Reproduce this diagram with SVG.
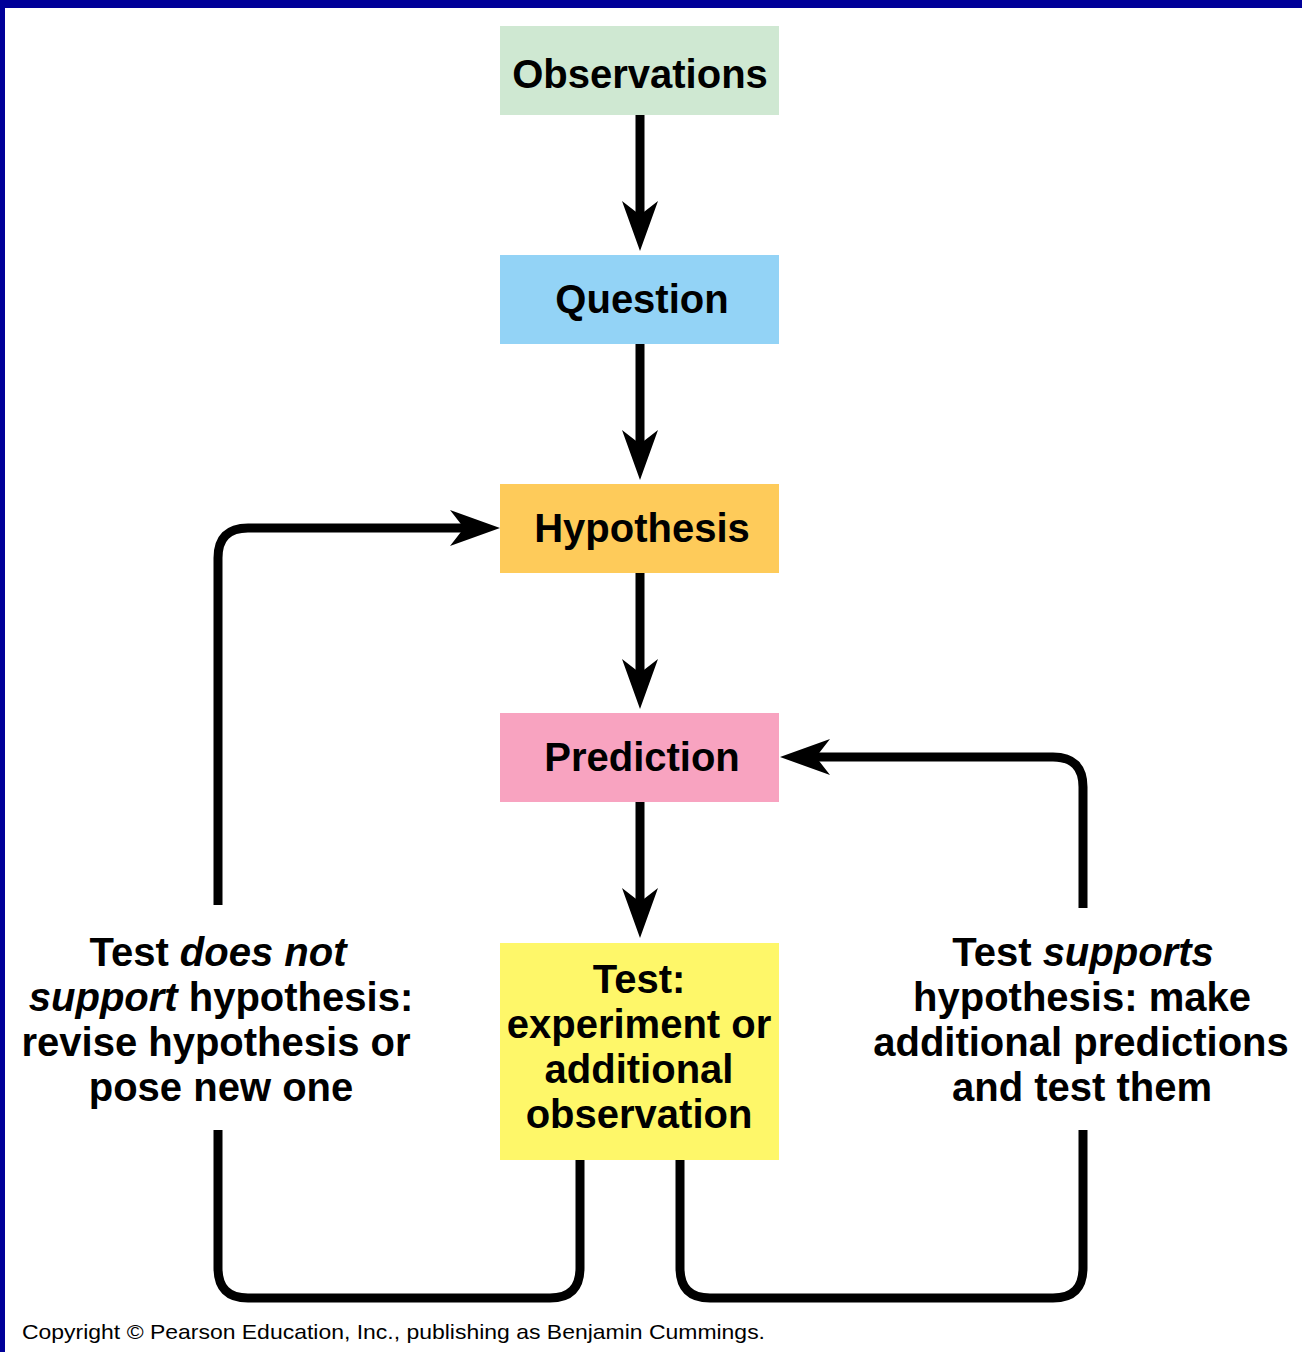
<svg xmlns="http://www.w3.org/2000/svg" width="1302" height="1352" viewBox="0 0 1302 1352">
<style>
  .lbl { font-family: "Liberation Sans", Arial, Helvetica, sans-serif; font-weight: bold; font-size: 40px; fill: #000; text-anchor: middle; }
  .it { font-style: italic; }
  .conn { fill: none; stroke: #000; stroke-width: 9; stroke-linejoin: round; }
  .copy { font-family: "Liberation Sans", Arial, Helvetica, sans-serif; font-size: 21px; fill: #000; }
</style>
<defs>
  <marker id="ah" markerUnits="userSpaceOnUse" markerWidth="80" markerHeight="60" refX="0" refY="0" orient="auto" overflow="visible" viewBox="-40 -30 80 60">
    <path d="M26,0 L-24,-18 L-10,0 L-24,18 Z" fill="#000"/>
  </marker>
</defs>
<rect x="0" y="0" width="1302" height="1352" fill="#ffffff"/>
<rect x="0" y="0" width="1302" height="8" fill="#000099"/>
<rect x="0" y="0" width="5" height="1352" fill="#000099"/>

<g id="observations">
  <rect x="500" y="26" width="279" height="89" fill="#cfe8d2"/>
  <text class="lbl" x="640" y="88">Observations</text>
</g>
<g id="question">
  <rect x="500" y="255" width="279" height="89" fill="#93d3f6"/>
  <text class="lbl" x="642" y="313">Question</text>
</g>
<g id="hypothesis">
  <rect x="500" y="484" width="279" height="89" fill="#fecb5a"/>
  <text class="lbl" x="642" y="542">Hypothesis</text>
</g>
<g id="prediction">
  <rect x="500" y="713" width="279" height="89" fill="#f8a3c0"/>
  <text class="lbl" x="642" y="771">Prediction</text>
</g>
<g id="test">
  <rect x="500" y="943" width="279" height="217" fill="#fef769"/>
  <text class="lbl" x="639" y="993">Test:</text>
  <text class="lbl" x="639" y="1038">experiment or</text>
  <text class="lbl" x="639" y="1083">additional</text>
  <text class="lbl" x="639" y="1128">observation</text>
</g>
<g id="label-not-support">
  <text class="lbl" x="218" y="966">Test <tspan class="it">does not</tspan></text>
  <text class="lbl" x="221" y="1011"><tspan class="it">support</tspan> hypothesis:</text>
  <text class="lbl" x="216" y="1056">revise hypothesis or</text>
  <text class="lbl" x="221" y="1101">pose new one</text>
</g>
<g id="label-supports">
  <text class="lbl" x="1083" y="966">Test <tspan class="it">supports</tspan></text>
  <text class="lbl" x="1082" y="1011">hypothesis: make</text>
  <text class="lbl" x="1081" y="1056">additional predictions</text>
  <text class="lbl" x="1082" y="1101">and test them</text>
</g>

<g id="connectors">
  <path class="conn" d="M640,115 V225" marker-end="url(#ah)"/>
  <path class="conn" d="M640,344 V454" marker-end="url(#ah)"/>
  <path class="conn" d="M640,573 V683" marker-end="url(#ah)"/>
  <path class="conn" d="M640,802 V912" marker-end="url(#ah)"/>
  <path class="conn" d="M218,905 V558 Q218,528 248,528 H474" marker-end="url(#ah)"/>
  <path class="conn" d="M1083,908 V787 Q1083,757 1053,757 H806" marker-end="url(#ah)"/>
  <path class="conn" d="M580,1160 V1268 Q580,1298 550,1298 H248 Q218,1298 218,1268 V1130"/>
  <path class="conn" d="M680,1160 V1268 Q680,1298 710,1298 H1053 Q1083,1298 1083,1268 V1130"/>
</g>

<text class="copy" x="22" y="1339" textLength="743" lengthAdjust="spacingAndGlyphs">Copyright © Pearson Education, Inc., publishing as Benjamin Cummings.</text>
</svg>
